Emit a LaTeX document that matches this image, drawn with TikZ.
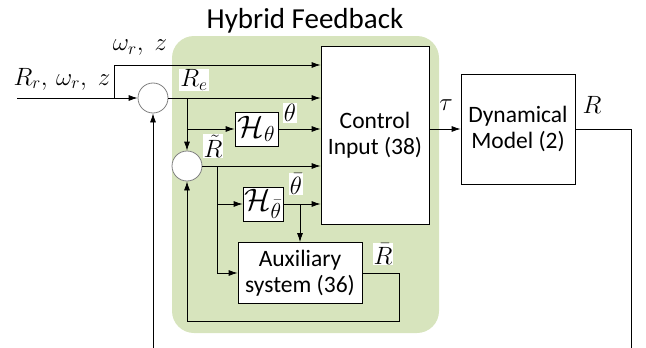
\RequirePackage{fix-cm}
\documentclass[tikz,border=0pt]{standalone}
\usepackage{amsmath,amssymb}
\usepackage{fontspec}
\newfontfamily\calibri{Carlito}
\usetikzlibrary{arrows.meta}
\definecolor{hybridgreen}{RGB}{215,228,189}
\tikzset{block/.style={draw,fill=white,align=center,inner sep=0pt,
		font=\calibri\fontsize{23.5}{26}\selectfont},
	mathblock/.style={block,font=\fontsize{31}{33}\selectfont},
	sumnode/.style={circle,draw=gray,fill=white,minimum size=30pt,inner sep=0pt},
	sig/.style={font=\fontsize{25}{28}\selectfont,inner sep=1pt},
	siglab/.style={sig,fill=white},
	arr/.style={-{Latex[length=9pt,width=6pt]}}}
\begin{document}
\begin{tikzpicture}
	[x=1pt,y=-1pt,line width=0.8pt]

	\useasboundingbox (0,0) rectangle (646,348);
	\clip (0,0) rectangle (646,348);
	\fill [hybridgreen,rounded corners=22pt] (172,36) rectangle (439,333);
	\node [font=\calibri\fontsize{29}{32}\selectfont] (title) at (305,21) {Hybrid Feedback};

	\node [block,minimum width=108pt,minimum height=178pt] (ctrl) at (375,135) {Control\\Input (38)};
	\node [block,minimum width=114pt,minimum height=110pt] (dyn) at (518,129) {Dynamical\\Model (2)};
	\node [mathblock,minimum width=43pt,minimum height=34pt] (hth) at (256.5,129) {$\mathcal{H}_\theta$};
	\node [mathblock,minimum width=40pt,minimum height=34pt] (hthb) at (263,204) {$\mathcal{H}_{\bar\theta}$};
	\node [block,minimum width=124pt,minimum height=61pt] (aux) at (300,273) {Auxiliary\\system (36)};
	\node [sumnode] (sum1) at (153,98) {};
	\node [sumnode] (sum2) at (187,166) {};

	\coordinate (in) at (17,98);
	\coordinate (br0) at (114,98);
	\coordinate (top) at (114,65);
	\coordinate (brt) at (217,166);

	\draw [arr] (in) -- (sum1);
	\draw [arr] (br0) -- (top) -- (top -| ctrl.west);
	\draw [arr] (sum1) -- (sum1 -| ctrl.west);
	\draw [arr] (sum2 |- sum1) -- (sum2);
	\draw [arr] (hth -| sum2) -- (hth);
	\draw [arr] (hth) -- (hth -| ctrl.west);
	\draw [arr] (sum2) -- (sum2 -| ctrl.west);
	\draw [arr] (brt) |- (aux);
	\draw [arr] (brt |- hthb) -- (hthb);
	\draw [arr] (hthb) -- (hthb -| ctrl.west);
	\draw [arr] (aux.north |- hthb) -- (aux.north);
	\draw [arr] (aux.east) -| (399,321) -| (sum2);
	\draw [arr] (ctrl.east |- dyn) -- (dyn);
	\draw [arr] (dyn) -| (631,354) -| (sum1);

	\node [sig] (lrin) at (62,79) {$R_r,\,\omega_r,\;z$};
	\node [sig] (lwz) at (140,48) {$\omega_r,\;z$};
	\node [siglab] (lre) at (194,80) {$R_e$};
	\node [siglab] (lth) at (290,113) {$\theta$};
	\node [siglab] (lrt) at (213,146) {$\tilde R$};
	\node [siglab] (lthb) at (296,184) {$\bar\theta$};
	\node [siglab] (lrb) at (383,254) {$\bar R$};
	\node [sig] (ltau) at (446,105) {$\tau$};
	\node [sig] (lr) at (592,105) {$R$};
\end{tikzpicture}
\end{document}
